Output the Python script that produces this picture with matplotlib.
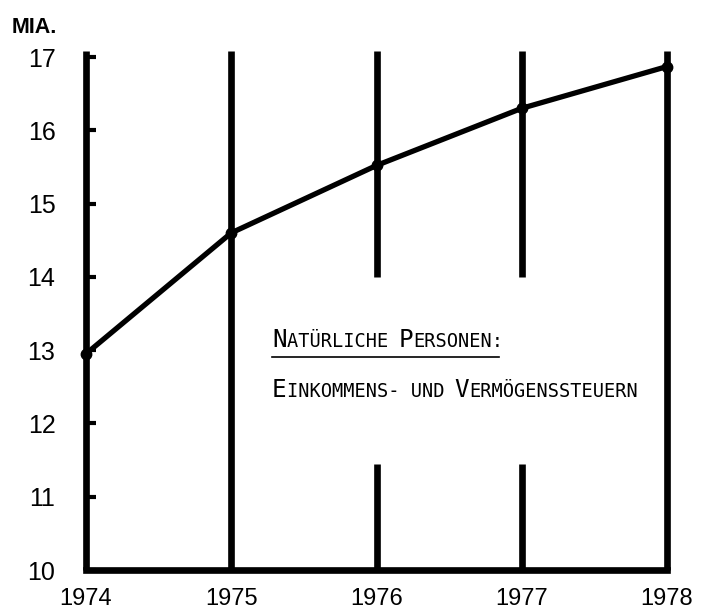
import matplotlib
matplotlib.use('Agg')
import matplotlib.pyplot as plt

# data
years = [1974, 1975, 1976, 1977, 1978]
values = [12.95, 14.6, 15.52, 16.3, 16.87]
y_ticks = [10, 11, 12, 13, 14, 15, 16, 17]
gap_years = [1976, 1977]       # vertical lines interrupted by the text box
gap_range = [11.45, 14.0]
line_top = 17.08

title_runs = [("N", True), ("ATÜRLICHE ", False), ("P", True), ("ERSONEN:", False)]
sub_runs = [("E", True), ("INKOMMENS- UND ", False), ("V", True), ("ERMÖGENSSTEUERN", False)]

W, H, DPI = 706, 609, 100
fig = plt.figure(figsize=(W / DPI, H / DPI), dpi=DPI)
ax = fig.add_axes([86 / W, 39 / H, (667 - 86) / W, (570 - 57) / H])

lw_grid = 4.8
for yr in years:
    if yr in gap_years:
        ax.plot([yr, yr], [10, gap_range[0]], color='black', lw=lw_grid,
                solid_capstyle='butt', clip_on=False)
        ax.plot([yr, yr], [gap_range[1], line_top], color='black', lw=lw_grid,
                solid_capstyle='butt', clip_on=False)
    else:
        ax.plot([yr, yr], [10, line_top], color='black', lw=lw_grid,
                solid_capstyle='butt', clip_on=False)
ax.plot([years[0], years[-1]], [10, 10], color='black', lw=lw_grid,
        solid_capstyle='projecting', clip_on=False)

ax.plot(years, values, color='black', lw=3.8, marker='o', markersize=7.5,
        clip_on=False, zorder=5)

ax.set_xlim(years[0], years[-1])
ax.set_ylim(10, 17)
for s in ax.spines.values():
    s.set_visible(False)

ax.set_yticks(y_ticks)
ax.set_yticklabels([str(t) for t in y_ticks], fontsize=18, family='Liberation Sans')
ax.tick_params(axis='y', direction='in', length=7, width=3, pad=22)
ax.set_xticks(years)
ax.set_xticklabels([str(y) for y in years], fontsize=17, family='Liberation Sans')
ax.tick_params(axis='x', length=0, pad=13)

fig.text(12 / W, (H - 33) / H, "MIA.", fontsize=15.5, fontweight='bold',
         family='Liberation Sans', va='baseline', ha='left')

# small caps text box
big_pt, small_pt = 17.5, 13.4
def pitch(pt):
    return 0.602 * pt * DPI / 72

def draw_runs(runs, x0, base):
    x = x0
    for txt, big in runs:
        pt = big_pt if big else small_pt
        fig.text(x / W, (H - base) / H, txt, fontsize=pt, family='DejaVu Sans Mono',
                 va='baseline', ha='left')
        x += pitch(pt) * len(txt)
    return x

x_end = draw_runs(title_runs, 272, 347)
fig.add_artist(plt.Line2D([272 / W, (x_end - 4) / W], [(H - 357) / H, (H - 357) / H],
                          color='black', lw=1.2))
draw_runs(sub_runs, 272, 397)

fig.savefig('out.png', dpi=DPI)
